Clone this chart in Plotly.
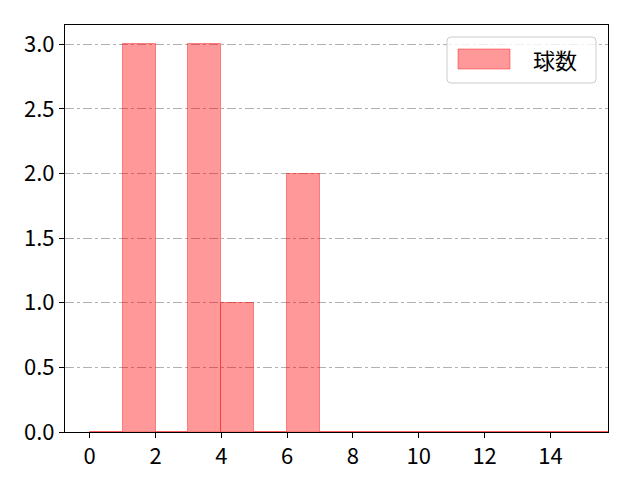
import plotly.graph_objects as go

# histogram bins (left edges) and counts
bin_left = list(range(0, 16))
counts = [0, 3, 0, 3, 1, 0, 2, 0, 0, 0, 0, 0, 0, 0, 0, 0]
series_name = "球数"

x_ticks = [0, 2, 4, 6, 8, 10, 12, 14]
y_ticks = [0.0, 0.5, 1.0, 1.5, 2.0, 2.5, 3.0]

FONT = "Noto Sans CJK JP"

# page has an 8px body margin, so the figure is a bit smaller than the window
W, H = 624, 464
L, R, T, B = 57, 24, 17, 40
pw, ph = W - L - R, H - T - B


def px(x):
    return (x - 8 - L) / pw


def py(y):
    return (H - B - (y - 8)) / ph


def rounded_box(x0, y0, x1, y1, r=4):
    # path in paper coords, corners given in screen pixels
    pts = [
        f"M {px(x0 + r)},{py(y0)}", f"L {px(x1 - r)},{py(y0)}",
        f"Q {px(x1)},{py(y0)} {px(x1)},{py(y0 + r)}", f"L {px(x1)},{py(y1 - r)}",
        f"Q {px(x1)},{py(y1)} {px(x1 - r)},{py(y1)}", f"L {px(x0 + r)},{py(y1)}",
        f"Q {px(x0)},{py(y1)} {px(x0)},{py(y1 - r)}", f"L {px(x0)},{py(y0 + r)}",
        f"Q {px(x0)},{py(y0)} {px(x0 + r)},{py(y0)}", "Z",
    ]
    return " ".join(pts)


fig = go.Figure()
fig.add_trace(go.Bar(
    x=bin_left, y=counts, width=1, offset=0,
    marker=dict(color="rgba(255,0,0,0.4)",
                line=dict(color="rgba(255,0,0,0.4)", width=1)),
    name=series_name, showlegend=False,
))

# legend drawn by hand to get the wide matplotlib patch
fig.add_shape(type="path", xref="paper", yref="paper",
              path=rounded_box(447, 37, 596, 83),
              line=dict(color="#cccccc", width=1), fillcolor="rgba(255,255,255,0.8)")
fig.add_shape(type="rect", xref="paper", yref="paper",
              x0=px(458), x1=px(510), y0=py(69), y1=py(49),
              line=dict(color="rgba(255,0,0,0.4)", width=1), fillcolor="rgba(255,0,0,0.4)")
fig.add_annotation(text=series_name, xref="paper", yref="paper",
                   x=px(531), y=py(59),
                   xanchor="left", yanchor="middle", showarrow=False,
                   font=dict(size=22, color="black", family=FONT))

fig.update_layout(
    width=W, height=H,
    margin=dict(l=L, r=R, t=T, b=B),
    plot_bgcolor="white", paper_bgcolor="white",
    font=dict(family=FONT, size=22, color="black"),
    bargap=0,
)
fig.update_xaxes(range=[-0.75, 15.75], tickvals=x_ticks, showgrid=False, automargin=False,
                 showline=True, linecolor="black", linewidth=1, mirror=True,
                 ticks="outside", ticklen=5, tickcolor="black", zeroline=False)
fig.update_yaxes(range=[0, 3.15], tickvals=y_ticks, tickformat=".1f", automargin=False,
                 showgrid=True, gridcolor="#b0b0b0", griddash="dashdot", gridwidth=1,
                 showline=True, linecolor="black", linewidth=1, mirror=True,
                 ticks="outside", ticklen=5, tickcolor="black", zeroline=False)

fig.write_html("out.html")
